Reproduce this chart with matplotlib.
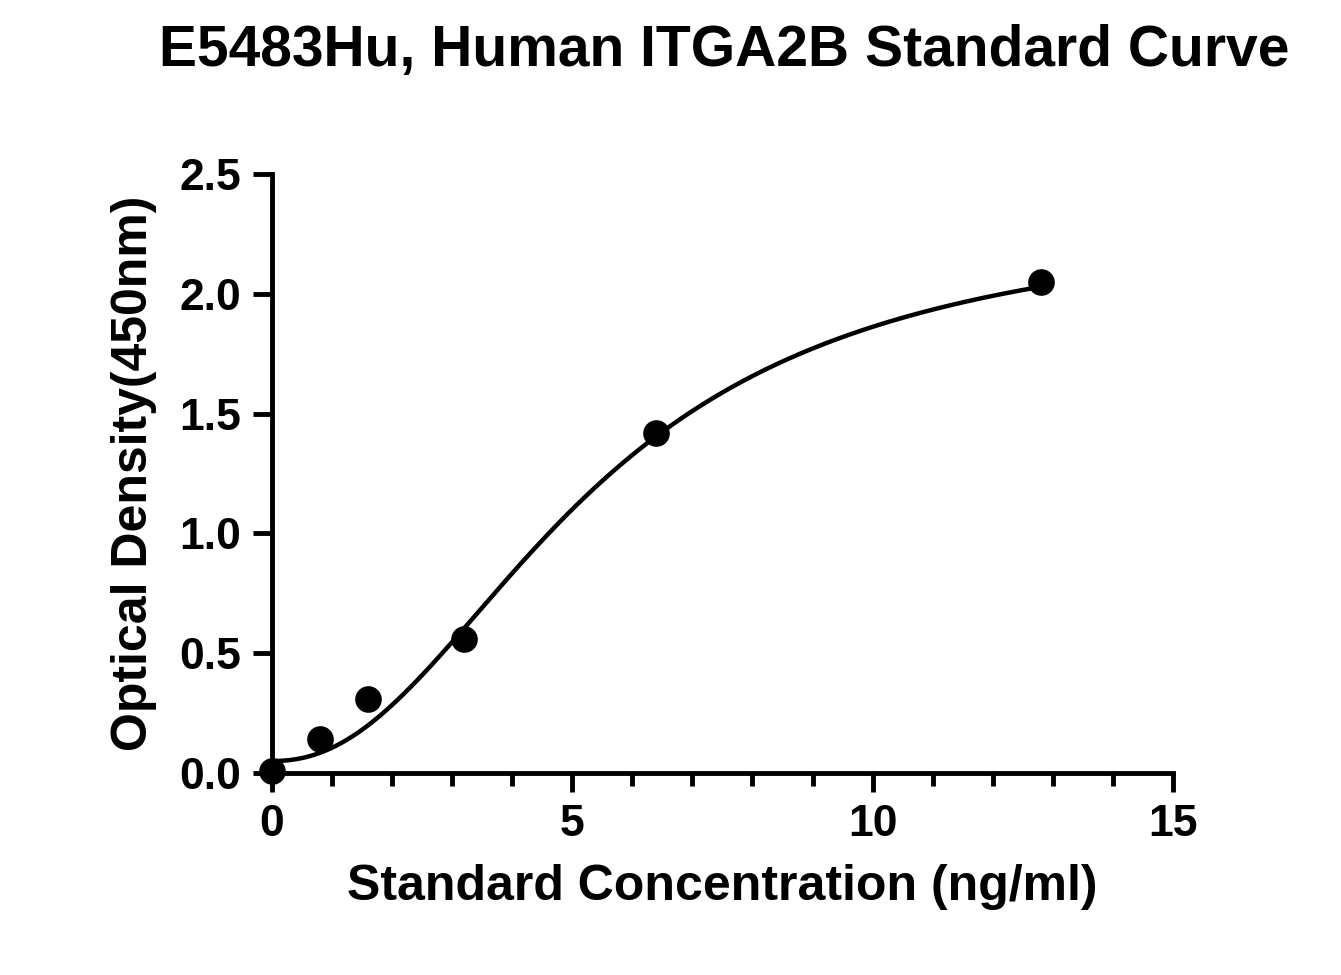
import numpy as np
import matplotlib
matplotlib.use("Agg")
import matplotlib.pyplot as plt
from matplotlib.ticker import MultipleLocator

conc = [0, 0.8, 1.6, 3.2, 6.4, 12.8]
od = [0.01, 0.14, 0.31, 0.56, 1.42, 2.05]
# 4PL fit parameters (A, B, C, D)
A, B, C, D = 0.05, 2.2, 5.35, 2.32

plt.rcParams['font.family'] = ['Liberation Sans', 'DejaVu Sans']
plt.rcParams['font.weight'] = 'bold'
fig = plt.figure(figsize=(13.41, 9.75), dpi=100)
ax = fig.add_axes([0.2028, 0.2072, 0.6719, 0.6143])
xs = np.linspace(0, 12.8, 300)
ys = D + (A - D) / (1 + (xs / C) ** B)
ax.plot(xs, ys, color='black', lw=3.2, clip_on=False)
ax.scatter(conc, od, s=330, color='black', zorder=3, clip_on=False)
ax.set_xlim(0, 15)
ax.set_ylim(0, 2.5)
ax.xaxis.set_major_locator(MultipleLocator(5))
ax.xaxis.set_minor_locator(MultipleLocator(1))
ax.yaxis.set_major_locator(MultipleLocator(0.5))
ax.yaxis.set_major_formatter(matplotlib.ticker.FormatStrFormatter('%.1f'))
for s in ['top', 'right']:
    ax.spines[s].set_visible(False)
for s in ['left', 'bottom']:
    ax.spines[s].set_linewidth(3.5)
ax.tick_params(which='major', length=14, width=3.5, labelsize=32, pad=8)
ax.tick_params(which='minor', length=9, width=3.5)
ax.set_xlabel('Standard Concentration (ng/ml)', fontsize=36, fontweight='bold', labelpad=14)
ax.set_ylabel('Optical Density(450nm)', fontsize=36, fontweight='bold', labelpad=16)
fig.suptitle('E5483Hu, Human ITGA2B Standard Curve', fontsize=41, fontweight='bold', x=0.54, y=0.975)
fig.savefig('out.png', dpi=100)
